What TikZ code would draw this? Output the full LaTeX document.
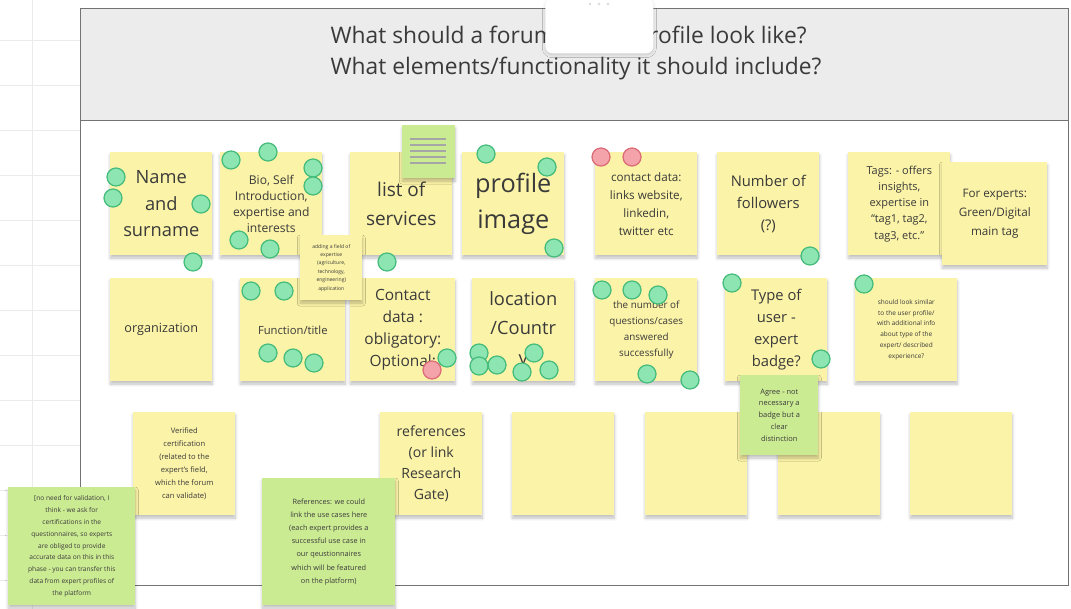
\documentclass[tikz,border=0pt]{standalone}
\usepackage{fontspec}
\setmainfont{Open Sans}
\usetikzlibrary{shadows.blur}
\definecolor{noteyellow}{HTML}{FBF3A7}
\definecolor{notegreen}{HTML}{CBEB93}
\definecolor{dotgreen}{HTML}{8DE5B2}
\definecolor{dotgreenline}{HTML}{45BC7C}
\definecolor{dotred}{HTML}{F4A3AA}
\definecolor{dotredline}{HTML}{DC6B78}
\definecolor{headgray}{HTML}{ECECEC}
\definecolor{inktext}{HTML}{3A3A3A}
\newcommand{\fsz}[2]{\fontsize{#1pt}{#2pt}\selectfont}

\tikzset{
    sticky/.style={fill=noteyellow, anchor=north west, inner sep=0pt, align=center,
        minimum width=2.55cm, minimum height=2.575cm, text=inktext,
        blur shadow={shadow xshift=0pt, shadow yshift=-2pt, shadow blur steps=6, shadow opacity=25}},
    greensticky/.style={sticky, fill=notegreen},
    dot/.style={circle, draw=dotgreenline, fill=dotgreen, line width=0.9pt,
        minimum size=0.45cm, inner sep=0pt},
    reddot/.style={dot, draw=dotredline, fill=dotred},
    frameline/.style={draw=black!55, line width=0.6pt},
    gridline/.style={draw=black!8, line width=0.4pt}
}

\begin{document}
\begin{tikzpicture}[x=0.025cm, y=-0.025cm]
    \useasboundingbox (0,0) rectangle (1071,609);

    % board grid on the left
    \foreach \gy in {40,85,...,580}
        \draw[gridline] (0,\gy) -- (80,\gy);
    \draw[gridline] (32,0) -- (32,609);

    % frame and header band
    \fill[headgray] (80,8) rectangle (1068,120);
    \draw[frameline] (80,8) rectangle (1068,585);
    \draw[frameline] (80,120) -- (1068,120);
    \node[text=inktext, align=left, font=\fsz{16.2}{22.5}] (title) at (576,53)
        {What should a forum expert profile look like?\\What elements/functionality it should include?};

    % first row
    \node[sticky, font=\fsz{13}{19}] (name) at (110,152) {Name\\and\\surname};
    \node[sticky, font=\fsz{8.6}{11.5}] (bio) at (220,152) {Bio, Self\\Introduction,\\expertise and\\interests};
    \node[sticky, font=\fsz{13.5}{21}] (services) at (350,152) {list of\\services};
    \node[sticky, font=\fsz{18}{25}] (profile) at (462,152) {profile\\image};
    \node[sticky, font=\fsz{8.3}{12.8}] (contact) at (595,152) {contact data:\\links website,\\linkedin,\\twitter etc};
    \node[sticky, font=\fsz{10.5}{15.5}] (followers) at (717,152) {Number of\\followers\\(?)};
    \node[sticky, font=\fsz{7.8}{11.5}] (tags) at (848,152) {Tags: - offers\\insights,\\expertise in\\“tag1, tag2,\\tag3, etc.”};
    \node[sticky, minimum width=2.625cm, font=\fsz{8.3}{13.5}] (experts) at (942,162) {For experts:\\Green/Digital\\main tag};
    \node[greensticky, minimum width=1.325cm, minimum height=1.325cm] (summary) at (402,125) {};
    \foreach \ly in {139,145,151,157,163}
        \draw[black!35, line width=0.8pt] (410,\ly) -- (446,\ly);

    % second row
    \node[sticky, font=\fsz{9}{13}] (org) at (110,278) {organization};
    \node[sticky, minimum width=2.625cm, font=\fsz{8}{12}] (function) at (240,278) {Function/title};
    \node[sticky, minimum width=2.625cm, font=\fsz{11}{15.5}] (contactreq) at (350,278) {Contact\\data :\\obligatory:\\Optional:};
    \node[sticky, font=\fsz{13}{21}] (location) at (472,278) {location\\/Countr\\y};
    \node[sticky, font=\fsz{7}{11.5}] (answered) at (595,278) {the number of\\questions/cases\\answered\\successfully};
    \node[sticky, font=\fsz{10.5}{15.5}] (usertype) at (725,278) {Type of\\user -\\expert\\badge?};
    \node[sticky, font=\fsz{4.6}{7.8}] (similar) at (855,278)
        {should look similar\\to the user profile/\\with additional info\\about type of the\\expert/ described\\experience?};
    \node[sticky, minimum width=1.55cm, minimum height=1.625cm, font=\fsz{3.6}{6}] (field) at (300,235)
        {adding a field of\\expertise\\(agriculture,\\technology,\\engineering)\\application};

    % third row
    \node[sticky, font=\fsz{5.4}{9.2}] (verified) at (133,412)
        {Verified\\certification\\(related to the\\expert's field,\\which the forum\\can validate)};
    \node[sticky, font=\fsz{10}{15}] (references) at (380,412) {references\\(or link\\Research\\Gate)};
    \node[sticky] (blanka) at (512,412) {};
    \node[sticky] (blankb) at (645,412) {};
    \node[sticky] (blankc) at (778,412) {};
    \node[sticky] (blankd) at (910,412) {};

    % green comments
    \node[greensticky, minimum width=1.95cm, minimum height=2cm, font=\fsz{5.3}{8.5}] (agree) at (740,375)
        {Agree - not\\necessary a\\badge but a\\clear\\distinction};
    \node[greensticky, minimum width=3.175cm, minimum height=2.95cm, font=\fsz{4.7}{8.4}] (validation) at (8,487)
        {[no need for validation, I\\think - we ask for\\certifications in the\\questionnaires, so experts\\are obliged to provide\\accurate data on this in this\\phase - you can transfer this\\data from expert profiles of\\the platform};
    \node[greensticky, minimum width=3.325cm, minimum height=3.175cm, font=\fsz{5.2}{9.4}] (usecases) at (262,478)
        {References: we could\\link the use cases here\\(each expert provides a\\successful use case in\\our qeustionnaires\\which will be featured\\on the platform)};

    % votes
    \foreach \vx/\vy [count=\i] in {116/177, 113/198, 201/204, 193/262, 231/160, 268/152, 313/168, 313/186,
        239/240, 270/249, 387/262, 486/154, 547/167, 554/248, 810/256, 251/291, 284/291, 268/353,
        293/358, 314/363, 479/353, 479/366, 497/365, 522/372, 534/353, 549/370, 602/290, 632/290,
        658/295, 647/374, 690/380, 732/283, 821/359, 864/284}
        \node[dot] (vote\i) at (\vx,\vy) {};
    \foreach \vx/\vy [count=\i] in {601/157, 632/157, 432/370}
        \node[reddot] (veto\i) at (\vx,\vy) {};
    \node[dot] (vote35) at (447,358) {};

    % collapsed tab
    \node[fill=white, rounded corners=5pt, anchor=north west, minimum width=2.7cm, minimum height=1.375cm,
        blur shadow={shadow xshift=0pt, shadow yshift=-1pt, shadow blur steps=4, shadow opacity=15}] (tab) at (545,-2) {};
    \foreach \tx in {590,599,608}
        \fill[black!15] (\tx,4) circle (1.3);
\end{tikzpicture}
\end{document}
